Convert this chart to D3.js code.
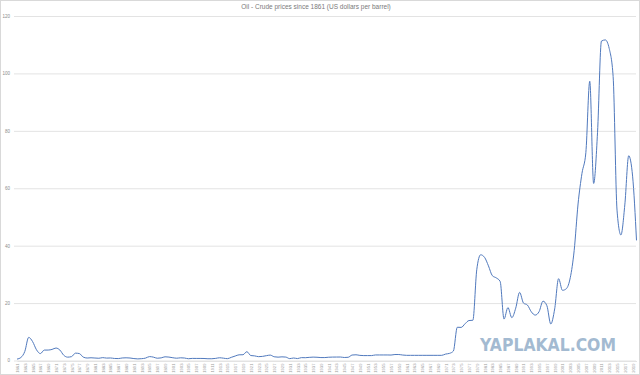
<!DOCTYPE html>
<html>
<head>
<meta charset="utf-8">
<script src="https://cdn.jsdelivr.net/npm/d3@7"></script>
<style>
  body { margin: 0; background: #fff; }
  svg { display: block; font-family: "Liberation Sans", Arial, sans-serif; }
</style>
</head>
<body>
<svg id="chart" width="640" height="375"></svg>
<script>
// Crude oil prices, US dollars per barrel (money of the day)
const years = d3.range(1861, 2021);
const prices = [
  0.49, 1.05, 3.15, 8.06, 6.59, 3.74, 2.41, 3.63, 3.64, 3.86,
  4.34, 3.64, 1.83, 1.17, 1.35, 2.56, 2.42, 1.19, 0.86, 0.95,
  0.86, 0.78, 1.00, 0.84, 0.88, 0.71, 0.67, 0.88, 0.94, 0.87,
  0.67, 0.56, 0.64, 0.84, 1.36, 1.18, 0.79, 0.91, 1.29, 1.19,
  0.96, 0.80, 0.94, 0.86, 0.62, 0.73, 0.72, 0.72, 0.70, 0.61,
  0.61, 0.74, 0.95, 0.81, 0.64, 1.10, 1.56, 1.98, 2.01, 3.07,
  1.73, 1.61, 1.34, 1.43, 1.68, 1.88, 1.30, 1.17, 1.27, 1.19,
  0.65, 0.87, 0.67, 1.00, 0.97, 1.09, 1.18, 1.13, 1.02, 1.02,
  1.14, 1.19, 1.20, 1.21, 1.05, 1.12, 1.90, 1.99, 1.78, 1.71,
  1.71, 1.71, 1.93, 1.93, 1.93, 1.93, 1.90, 2.08, 2.08, 1.90,
  1.80, 1.80, 1.80, 1.80, 1.80, 1.80, 1.80, 1.80, 1.80, 1.80,
  2.24, 2.48, 3.29, 11.58, 11.53, 12.80, 13.92, 14.02, 31.61, 36.83,
  35.93, 32.97, 29.55, 28.78, 27.56, 14.43, 18.44, 14.92, 18.23, 23.73,
  20.00, 19.32, 16.97, 15.82, 17.02, 20.67, 19.09, 12.72, 17.97, 28.50,
  24.44, 25.02, 28.83, 38.27, 54.52, 65.14, 72.39, 97.26, 61.67, 79.50,
  111.26, 111.67, 108.66, 98.95, 52.39, 43.73, 54.19, 71.31, 64.21, 41.84
];
const yTicks = [0, 20, 40, 60, 80, 100, 120];
const yearLabels = years.filter((d, i) => i % 2 === 0);

const data = years.map((y, i) => ({year: y, value: prices[i]}));

const width = 640;
const height = 375;

const svg = d3.select("#chart");

// chart area border
svg.append("rect")
  .attr("x", 0.5).attr("y", 0.5)
  .attr("width", width - 1).attr("height", height - 1)
  .attr("fill", "none")
  .attr("stroke", "#d9d9d9");

const xScale = d3.scaleLinear()
  .domain([1861, 2020])
  .range([17, 636.5]);

const yScale = d3.scaleLinear()
  .domain([0, 120])
  .range([360.5, 16]);

// gridlines + y labels
const yAxis = d3.axisLeft(yScale)
  .tickValues(yTicks)
  .tickSize(-(636 - 14))
  .tickPadding(4);

svg.append("g")
  .attr("transform", "translate(14,0)")
  .call(yAxis)
  .call(g => g.select(".domain").remove())
  .call(g => g.selectAll(".tick line").attr("stroke", "#e3e3e3"))
  .call(g => g.selectAll(".tick text")
    .attr("fill", "#8c8c8c")
    .attr("font-size", 4.5));

// x axis with rotated year labels
const xAxis = d3.axisBottom(xScale)
  .tickValues(yearLabels)
  .tickFormat(d3.format("d"))
  .tickSize(0)
  .tickPadding(2);

svg.append("g")
  .attr("transform", "translate(0,361)")
  .call(xAxis)
  .call(g => g.select(".domain").attr("stroke", "#e3e3e3"))
  .call(g => g.selectAll(".tick text")
    .attr("fill", "#9a9a9a")
    .attr("font-size", 4.2)
    .attr("transform", "rotate(-90)")
    .attr("text-anchor", "end")
    .attr("x", -2.5)
    .attr("y", 0)
    .attr("dy", "0.35em"));

// title
svg.append("text")
  .attr("x", 316)
  .attr("y", 9)
  .attr("text-anchor", "middle")
  .attr("fill", "#7a7a7a")
  .attr("font-size", 6.5)
  .text("Oil - Crude prices since 1861 (US dollars per barrel)");

// price line
const line = d3.line()
  .x(d => xScale(d.year))
  .y(d => yScale(d.value))
  .curve(d3.curveMonotoneX);

svg.append("path")
  .datum(data)
  .attr("d", line)
  .attr("fill", "none")
  .attr("stroke", "#5079bd")
  .attr("stroke-width", 1);

// watermark
svg.append("text")
  .attr("x", 548)
  .attr("y", 351)
  .attr("text-anchor", "middle")
  .attr("fill", "#a3bad1")
  .attr("font-family", "DejaVu Sans")
  .attr("font-weight", "bold")
  .attr("font-size", 17)
  .attr("textLength", 136)
  .attr("lengthAdjust", "spacingAndGlyphs")
  .text("YAPLAKAL.COM");
</script>
</body>
</html>
